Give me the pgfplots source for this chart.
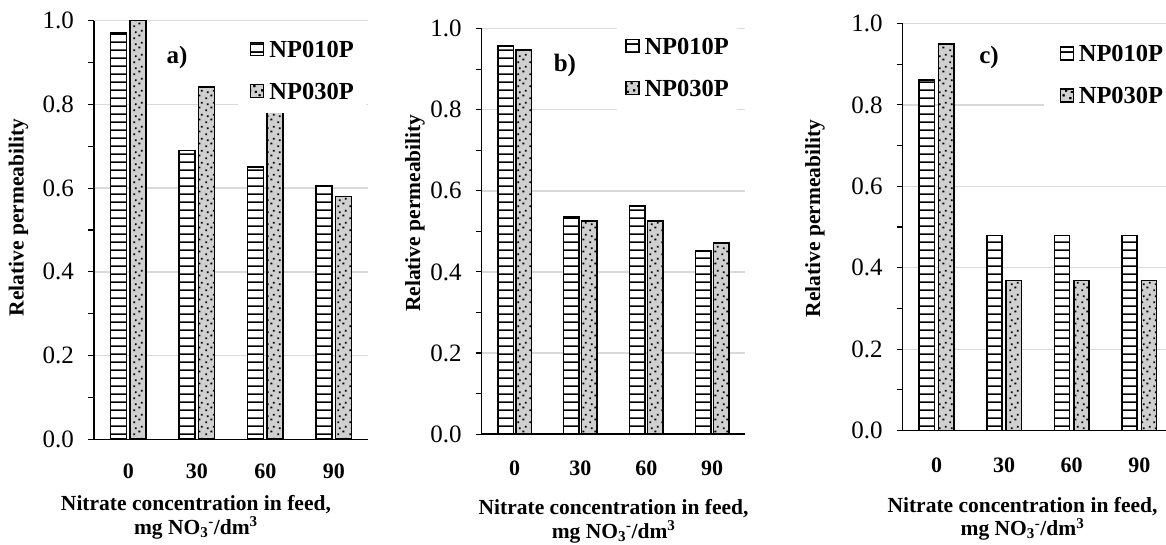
\documentclass[border=0pt]{standalone}
\usepackage{fontspec}
\setmainfont{Liberation Serif}
\usepackage{pgfplots}
\usepackage{pgfplotstable}
\pgfplotsset{compat=1.18}
\usetikzlibrary{patterns.meta}

\definecolor{gridgray}{HTML}{D9D9D9}
\definecolor{bargray}{HTML}{D0D0D0}

\tikzdeclarepattern{
  name=hstripes, type=uncolored,
  bounding box={(0pt,0pt) and (8pt,8.3pt)},
  tile size={(8pt,8.3pt)},
  code={\draw[line width=1.5pt] (-1pt,4.15pt) -- (9pt,4.15pt);}
}
\tikzdeclarepattern{
  name=sdots, type=uncolored,
  bounding box={(0pt,0pt) and (12pt,12pt)},
  tile size={(12pt,12pt)},
  code={\fill (1.5pt,2pt) rectangle (3.5pt,4pt);
        \fill (7pt,5pt) rectangle (9pt,7pt);
        \fill (3pt,8.5pt) rectangle (5pt,10.5pt);
        \fill (9.5pt,10pt) rectangle (11.5pt,12pt);}
}

\pgfplotstableread{
x a1 a2 b1 b2 c1 c2
0 0.970 1.000 0.958 0.948 0.861 0.949
1 0.690 0.842 0.535 0.526 0.479 0.369
2 0.650 0.800 0.562 0.526 0.479 0.369
3 0.605 0.580 0.451 0.472 0.479 0.369
}\datatable

\pgfplotsset{
  panel/.style={
    scale only axis, ybar, clip=false,
    xmin=-0.5, xmax=3.5, ymin=0, ymax=1,
    xtick={0,1,2,3}, xticklabels={0,30,60,90},
    ytick={0,0.2,0.4,0.6,0.8,1.0}, minor ytick={0.1,0.3,0.5,0.7,0.9},
    axis x line*=bottom, axis y line*=left,
    axis line style={line width=1.3pt, -},
    ymajorgrids, major grid style={draw=gridgray, line width=1.3pt},
    xtick style={draw=none},
    ytick style={line width=1.1pt, black},
    minor tick style={line width=1.1pt, black},
    tick align=outside, major tick length=6pt, minor tick length=6pt,
    yticklabel style={font=\fontsize{25}{25}\selectfont, anchor=east, inner sep=0pt, xshift=-14pt},
    xticklabel style={font=\fontsize{22}{22}\selectfont\bfseries, anchor=north, inner sep=0pt},
    /pgf/number format/.cd, fixed, fixed zerofill, precision=1, assume math mode=true, /pgfplots/.cd,
    ylabel={Relative permeability},
    ylabel style={font=\fontsize{21.5}{24}\selectfont\bfseries, anchor=center, inner sep=0pt},
    xlabel={Nitrate concentration in feed,\\mg NO\textsubscript{3}\textsuperscript{-}/dm\textsuperscript{3}},
    xlabel style={font=\fontsize{21.5}{23.7}\selectfont\bfseries, anchor=north, align=center, inner sep=0pt},
    legend style={draw=none, fill=white, anchor=north west, inner ysep=14pt, row sep=25pt, column sep=5pt,
      font=\fontsize{24.5}{24.5}\selectfont\bfseries,
      nodes={inner sep=0pt, text height=17pt, text depth=0pt, anchor=base west}},
  },
  s1/.style={draw=black, line width=1.6pt, fill=white, postaction={pattern=hstripes},
    legend image code/.code={\draw[line width=1.3pt, fill=white, postaction={pattern=hstripes}] (0pt,1.5pt) rectangle (13pt,14.5pt);}},
  s2/.style={draw=black, line width=1.6pt, fill=bargray, postaction={pattern=sdots},
    legend image code/.code={\draw[line width=1.3pt, fill=bargray, postaction={pattern=sdots}] (0pt,1.5pt) rectangle (13pt,14.5pt);}},
}

\begin{document}
\begin{tikzpicture}
\useasboundingbox (0pt,0pt) rectangle (1166pt,545pt);
\clip (0pt,0pt) rectangle (1166pt,545pt);

% panel a
\begin{axis}[panel, at={(94pt,105.7pt)}, anchor=south west, width=274pt, height=418.6pt,
  bar width=16.3pt,
  xticklabel style={yshift=-18.7pt},
  ylabel style={at={(axis description cs:-0.2755,0.530)}},
  xlabel style={at={(axis description cs:0.372,-0.1331)}},
  legend style={at={(axis description cs:0.5255,0.9873)}, inner xsep=12pt},
]
\addplot[s1, bar shift=-9.75pt] table[x=x,y=a1]{\datatable};
\addplot[s2, bar shift=9.75pt] table[x=x,y=a2]{\datatable};
\legend{NP010P,NP030P}
\node[font=\fontsize{25}{25}\selectfont\bfseries] at (rel axis cs:0.303,0.912) {a)};
\end{axis}

% panel b
\begin{axis}[panel, at={(481.7pt,110.9pt)}, anchor=south west, width=263.3pt, height=405.4pt,
  bar width=15.5pt,
  xticklabel style={yshift=-20.2pt},
  ylabel style={at={(axis description cs:-0.2533,0.545)}},
  xlabel style={at={(axis description cs:0.501,-0.1601)}},
  legend style={at={(axis description cs:0.5139,1.0141)}, inner xsep=8pt},
]
\addplot[s1, bar shift=-9pt] table[x=x,y=b1]{\datatable};
\addplot[s2, bar shift=9pt] table[x=x,y=b2]{\datatable};
\legend{NP010P,NP030P}
\node[font=\fontsize{25}{25}\selectfont\bfseries] at (rel axis cs:0.316,0.908) {b)};
\end{axis}

% panel c
\begin{axis}[panel, at={(902.7pt,114.4pt)}, anchor=south west, width=270.4pt, height=407.1pt,
  bar width=15.3pt,
  xticklabel style={yshift=-21.1pt},
  ylabel style={at={(axis description cs:-0.3243,0.5215)}},
  xlabel style={at={(axis description cs:0.443,-0.1624)}},
  legend style={at={(axis description cs:0.52,0.9835)}, inner xsep=16pt},
]
\addplot[s1, bar shift=-9.7pt] table[x=x,y=c1]{\datatable};
\addplot[s2, bar shift=9.7pt] table[x=x,y=c2]{\datatable};
\legend{NP010P,NP030P}
\node[font=\fontsize{25}{25}\selectfont\bfseries] at (rel axis cs:0.319,0.917) {c)};
\end{axis}
\end{tikzpicture}
\end{document}
